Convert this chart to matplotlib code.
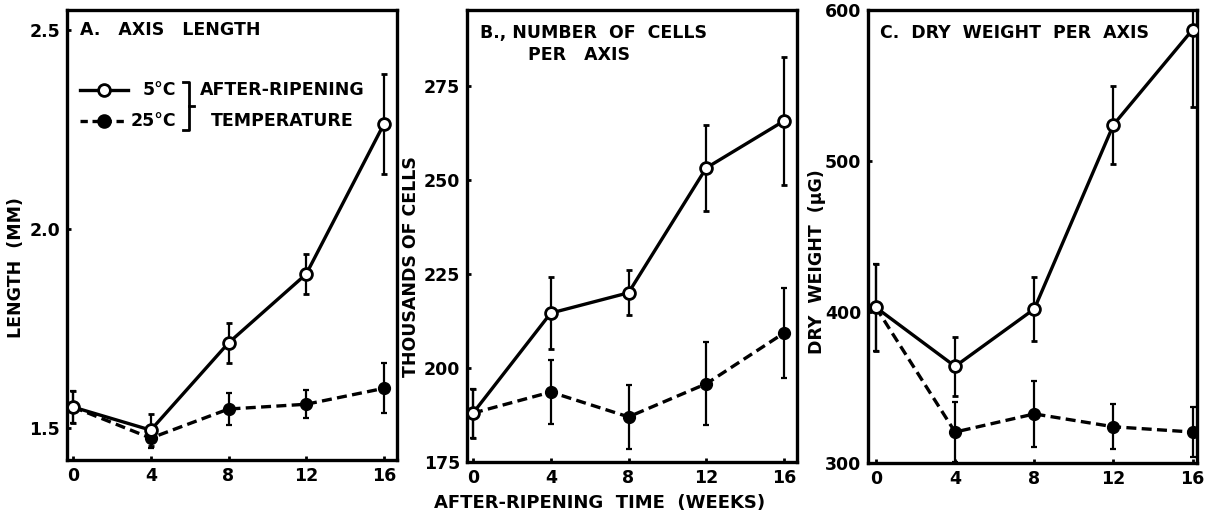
import matplotlib
matplotlib.use("Agg")
import matplotlib.pyplot as plt

plt.rcParams['font.family'] = ['DejaVu Sans']
plt.rcParams['font.weight'] = 'bold'

weeks = [0, 4, 8, 12, 16]
xtick_labels = ["0", "4", "8", "12", "16"]

# Panel A: axis length (mm)
len_5c = [1.553, 1.495, 1.714, 1.887, 2.264]
len_5c_err = [0.04, 0.04, 0.05, 0.05, 0.125]
len_25c = [1.553, 1.475, 1.548, 1.560, 1.600]
len_25c_err = [0.04, 0.025, 0.04, 0.035, 0.063]

# Panel B: thousands of cells per axis
cells_5c = [188, 214.6, 220, 253.2, 265.7]
cells_5c_err = [6.5, 9.5, 6, 11.5, 17]
cells_25c = [188, 193.6, 187, 195.8, 209.3]
cells_25c_err = [6.5, 8.5, 8.5, 11, 12]

# Panel C: dry weight per axis (ug)
dw_5c = [403, 364, 402, 524, 587]
dw_5c_err = [29, 19.5, 21, 26, 51]
dw_25c = [403, 320.5, 332.5, 324, 320.5]
dw_25c_err = [29, 20, 22, 15, 16.5]

fig = plt.figure(figsize=(12.08, 5.15), dpi=100)

W = 1208.0
H = 515.0
def fx(x):
    return x / W
def fy(y):
    return 1 - y / H

def ax_at(l, r, t, b):
    return fig.add_axes([l / W, 1 - b / H, (r - l) / W, (b - t) / H])

axA = ax_at(67, 397, 10, 460)
axB = ax_at(467, 797, 10, 462)
axC = ax_at(868, 1197, 10, 463)

lw = 2.4
ms = 8.5
FS = 12.5

def draw(ax, y5, e5, y25, e25):
    ax.errorbar(weeks, y25, yerr=e25, color='black', lw=lw, ls=(0, (3, 1.6)),
                marker='o', ms=ms, mfc='black', mec='black', elinewidth=1.6,
                capsize=2.5, capthick=1.6, zorder=3)
    ax.errorbar(weeks, y5, yerr=e5, color='black', lw=lw, ls='-',
                marker='o', ms=ms, mfc='white', mec='black', mew=2.0,
                elinewidth=1.6, capsize=2.5, capthick=1.6, zorder=4)
    for s in ax.spines.values():
        s.set_linewidth(2.4)
    ax.set_xticks(weeks)
    ax.set_xticklabels(xtick_labels)
    ax.tick_params(direction='in', length=3, width=2, labelsize=12.5, pad=5)

draw(axA, len_5c, len_5c_err, len_25c, len_25c_err)
axA.set_xlim(-0.31, 16.67)
axA.set_ylim(1.42, 2.55)
axA.set_yticks([1.5, 2.0, 2.5])
axA.set_yticklabels(["1.5", "2.0", "2.5"])

draw(axB, cells_5c, cells_5c_err, cells_25c, cells_25c_err)
axB.set_xlim(-0.31, 16.67)
axB.set_ylim(175, 295.2)
axB.set_yticks([175, 200, 225, 250, 275])

draw(axC, dw_5c, dw_5c_err, dw_25c, dw_25c_err)
axC.set_xlim(-0.4, 16.22)
axC.set_ylim(300, 600)
axC.set_yticks([300, 400, 500, 600])

for ax in (axA, axB, axC):
    for lab in ax.get_xticklabels() + ax.get_yticklabels():
        lab.set_fontweight('bold')

# y-axis labels
ykw = dict(fontsize=FS, fontweight='bold', rotation=90, va='center', ha='center')
fig.text(fx(16), fy(268), "LENGTH  (MM)", **ykw)
fig.text(fx(411), fy(267), "THOUSANDS OF CELLS", **ykw)
fig.text(fx(817), fy(262), "DRY  WEIGHT  (\u03bcG)", **ykw)

# panel titles
tkw = dict(fontsize=FS, fontweight='bold', va='center', ha='left')
fig.text(fx(80), fy(30), "A.   AXIS   LENGTH", **tkw)
fig.text(fx(480), fy(33), "B., NUMBER  OF  CELLS", **tkw)
fig.text(fx(528), fy(55), "PER   AXIS", **tkw)
fig.text(fx(880), fy(33), "C.  DRY  WEIGHT  PER  AXIS", **tkw)

# legend drawn in panel A
for (yy, ls, mfc, lab, lx) in [(90, '-', 'white', "5\u00b0C", 143), (121, (0, (2.2, 1.4)), 'black', "25\u00b0C", 131)]:
    fig.add_artist(plt.Line2D([fx(80), fx(128)], [fy(yy), fy(yy)], color='black', lw=lw, ls=ls))
    fig.add_artist(plt.Line2D([fx(104)], [fy(yy)], marker='o', ms=ms, mfc=mfc, mec='black', mew=2.0, color='black'))
    fig.text(fx(lx), fy(yy), lab, fontsize=FS, fontweight='bold', va='center', ha='left')

# bracket
bx = 183
fig.add_artist(plt.Line2D([fx(bx), fx(bx + 6), fx(bx + 6), fx(bx)],
                          [fy(82), fy(82), fy(130), fy(130)], color='black', lw=2))
fig.add_artist(plt.Line2D([fx(bx + 6), fx(bx + 11)], [fy(106), fy(106)], color='black', lw=2))
fig.text(fx(200), fy(90), "AFTER-RIPENING", fontsize=FS, fontweight='bold', va='center', ha='left')
fig.text(fx(211), fy(121), "TEMPERATURE", fontsize=FS, fontweight='bold', va='center', ha='left')

fig.text(fx(600), fy(503), "AFTER-RIPENING  TIME  (WEEKS)", fontsize=13, fontweight='bold',
         va='center', ha='center')

fig.savefig("out.png", dpi=100)
